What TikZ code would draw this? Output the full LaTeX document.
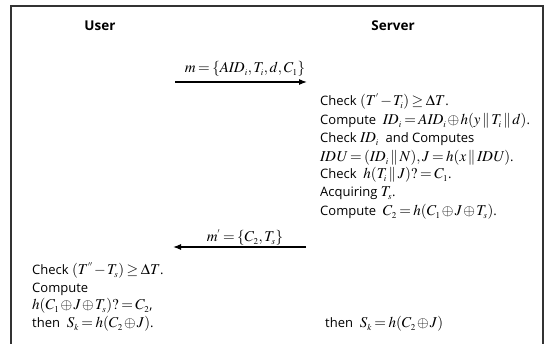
\documentclass[tikz,border=0pt]{standalone}
\usepackage{mathptmx}
\usepackage{fontspec}
\setmainfont{Open Sans}
\DeclareMathSizes{13}{15}{9}{7}
\DeclareMathSizes{13.5}{15}{9}{7}
\usetikzlibrary{arrows.meta}
\tikzset{
  lbl/.style={anchor=base west,inner sep=0pt,font=\fontsize{13}{15}\selectfont},
  head/.style={anchor=center,inner sep=0pt,font=\fontsize{13.5}{15}\selectfont\bfseries},
  msg/.style={anchor=base,inner sep=0pt,font=\fontsize{13}{15}\selectfont},
  frame/.style={draw=black!80,line width=1.1pt},
  arr/.style={line width=1.1pt,-{Latex[length=8pt,width=6pt]}}
}
\begin{document}
\begin{tikzpicture}[x=1pt,y=-1pt]
\thickmuskip=3mu\relax
\medmuskip=1.5mu\relax
\useasboundingbox (0,0) rectangle (547,344);
\draw[frame] (11,344) -- (11,6) -- (543,6) -- (543,344);
\node[head] (user) at (100,26) {User};
\node[head] (server) at (393,26) {Server};
% message 1
\coordinate (a1s) at (175,82);
\coordinate (a1e) at (307,82);
\draw[arr] (a1s) -- (a1e);
\node[msg] (m1) at (245,73) {$m=\{\mathit{AID}_i,T_i,d,C_1\}$};
% server steps
\node[lbl] (s1) at (320,106) {Check $(T^{'}-T_i)\geq\Delta T$.};
\node[lbl] (s2) at (320,125) {Compute \ $\mathit{ID}_i=\mathit{AID}_i\oplus h(y\,\|\,T_i\,\|\,d)$.};
\node[lbl] (s3) at (320,143) {Check $\mathit{ID}_i$ \ and Computes};
\node[lbl] (s4) at (320,162) {$\mathit{IDU}=(\mathit{ID}_i\,\|\,N),J=h(x\,\|\,\mathit{IDU})$.};
\node[lbl] (s5) at (320,179) {Check \ $h(T_i\,\|\,J)?=C_1$.};
\node[lbl] (s6) at (320,197) {Acquiring $T_s$.};
\node[lbl] (s7) at (320,216) {Compute \ $C_2=h(C_1\oplus J\oplus T_s)$.};
% message 2
\coordinate (a2s) at (306,247);
\coordinate (a2e) at (173,247);
\draw[arr] (a2s) -- (a2e);
\node[msg] (m2) at (245,242) {$m^{'}=\{C_2,T_s\}$};
% user steps
\node[lbl] (u1) at (32,275) {Check $(T^{''}-T_s)\geq\Delta T$.};
\node[lbl] (u2) at (32,293) {Compute};
\node[lbl] (u3) at (32,310) {$h(C_1\oplus J\oplus T_s)?=C_2$,};
\node[lbl] (u4) at (32,328) {then \ $S_k=h(C_2\oplus J)$.};
\node[lbl] (s8) at (325,328) {then \ $S_k=h(C_2\oplus J)$};
\end{tikzpicture}
\end{document}
